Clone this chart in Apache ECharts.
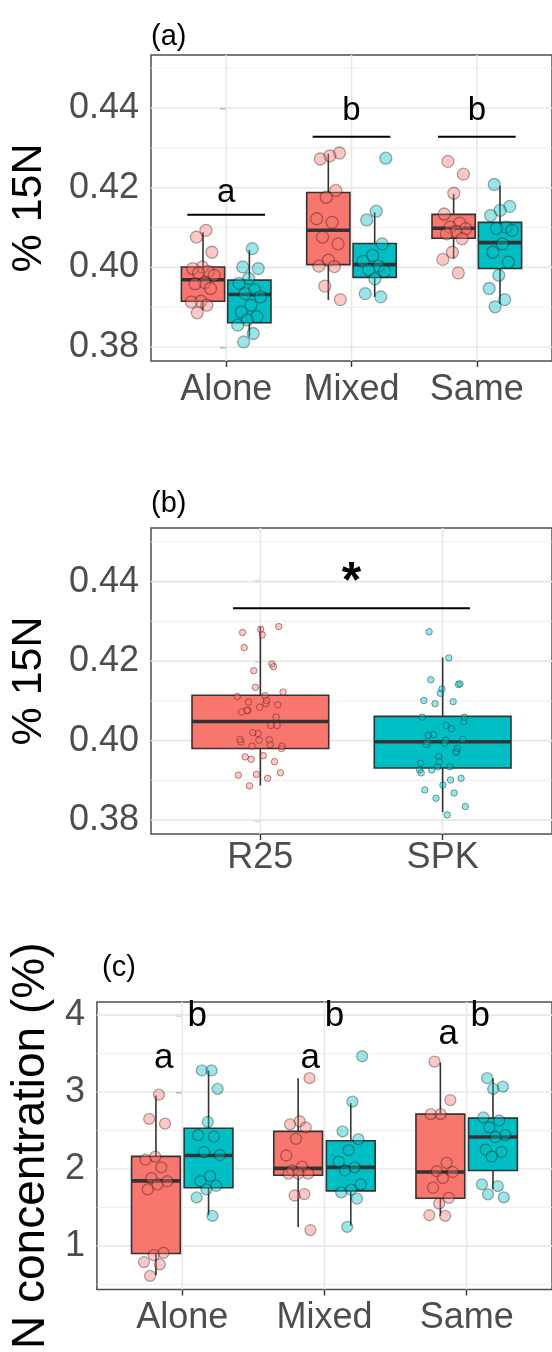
<!DOCTYPE html>
<html>
<head>
<meta charset="utf-8">
<script src="https://cdn.jsdelivr.net/npm/echarts@6/dist/echarts.min.js"></script>
<style>html,body{margin:0;padding:0;background:#fff}#c{width:552px;height:1352px}</style>
</head>
<body>
<div id="c"></div>
<script>
// ---------------- data ----------------
const catsAC = ['Alone', 'Mixed', 'Same'];
const catsB = ['R25', 'SPK'];
const yTicksAB = [0.38, 0.40, 0.42, 0.44];
const yMinorAB = [0.39, 0.41, 0.43, 0.45];
const yTicksC = [1, 2, 3, 4];
const yMinorC = [0.5, 1.5, 2.5, 3.5];

// panel (a): box stats [lower whisker, q1, median, q3, upper whisker] per category
const boxA_R25 = [[0.3893, 0.3915, 0.3969, 0.4001, 0.4088], [0.3918, 0.4007, 0.4093, 0.4188, 0.4285], [0.4022, 0.4073, 0.4098, 0.4133, 0.4184]];
const boxA_SPK = [[0.3826, 0.3861, 0.3932, 0.3968, 0.4044], [0.3926, 0.3975, 0.4007, 0.4060, 0.4138], [0.3909, 0.3997, 0.4062, 0.4113, 0.4205]];
// panel (a) points
const ptsA_R25_Alone = [0.4093, 0.4076, 0.4038, 0.4001, 0.3997, 0.3990, 0.3986, 0.3980, 0.3962, 0.3959, 0.3947, 0.3915, 0.3913, 0.3905, 0.3886];
const ptsA_R25_Mixed = [0.4287, 0.4280, 0.4272, 0.4193, 0.4176, 0.4122, 0.4113, 0.4076, 0.4059, 0.4018, 0.4003, 0.4002, 0.3953, 0.3919];
const ptsA_R25_Same = [0.4266, 0.4234, 0.4186, 0.4134, 0.4111, 0.4101, 0.4097, 0.4090, 0.4084, 0.4072, 0.4038, 0.4020, 0.3986];
const ptsA_SPK_Alone = [0.4047, 0.4001, 0.3997, 0.3972, 0.3960, 0.3943, 0.3934, 0.3926, 0.3905, 0.3888, 0.3876, 0.3868, 0.3855, 0.3834, 0.3813];
const ptsA_SPK_Mixed = [0.4274, 0.4141, 0.4119, 0.4059, 0.4030, 0.4015, 0.4003, 0.3994, 0.3990, 0.3971, 0.3934, 0.3926];
const ptsA_SPK_Same = [0.4208, 0.4153, 0.4143, 0.4130, 0.4101, 0.4098, 0.4093, 0.4059, 0.4038, 0.4013, 0.3980, 0.3947, 0.3919, 0.3901];

// panel (b): pooled box stats
const boxB = [[0.3887, 0.3980, 0.4048, 0.4114, 0.4287], [0.3820, 0.3931, 0.3997, 0.4061, 0.4209]];

// panel (c)
const boxC_R25 = [[0.617, 0.900, 1.845, 2.163, 2.956], [1.247, 1.918, 2.008, 2.488, 3.180], [1.390, 1.620, 1.960, 2.712, 3.383]];
const boxC_SPK = [[1.398, 1.756, 2.175, 2.529, 3.280], [1.260, 1.715, 2.020, 2.366, 2.855], [1.735, 1.980, 2.415, 2.660, 3.180]];
const ptsC_R25_Alone = [2.965, 2.65, 2.59, 2.16, 2.12, 2.02, 1.88, 1.84, 1.80, 1.735, 0.91, 0.88, 0.79, 0.76, 0.61];
const ptsC_R25_Mixed = [3.18, 2.62, 2.58, 2.54, 2.39, 2.175, 2.03, 1.98, 1.94, 1.94, 1.94, 1.674, 1.655, 1.206];
const ptsC_R25_Same = [3.395, 2.895, 2.712, 2.712, 2.08, 1.97, 1.96, 1.88, 1.756, 1.625, 1.55, 1.398, 1.39];
const ptsC_SPK_Alone = [3.28, 3.28, 3.04, 2.61, 2.44, 2.42, 2.22, 2.18, 1.906, 1.84, 1.78, 1.735, 1.63, 1.39];
const ptsC_SPK_Mixed = [3.465, 2.875, 2.488, 2.387, 2.244, 2.094, 2.02, 1.98, 1.80, 1.73, 1.695, 1.613, 1.247];
const ptsC_SPK_Same = [3.18, 3.07, 3.04, 2.67, 2.63, 2.54, 2.44, 2.415, 2.25, 2.22, 2.16, 1.80, 1.776, 1.67, 1.63];

// significance annotations: [x1, x2, y] lines and [x, y, text] labels
const sigLinesA = [[-0.31, 0.31, 0.4132], [0.69, 1.31, 0.4328], [1.69, 2.31, 0.4328]];
const sigTextA = [[0, 0.4186, 'a'], [1, 0.4392, 'b'], [2, 0.4392, 'b']];
const sigLinesB = [[-0.15, 1.15, 0.4333]];
const sigTextB = [[0.5, 0.4397, '*']];
const sigTextC = [[-0.13, 3.444, 'a'], [0.105, 3.985, 'b'], [0.90, 3.444, 'a'], [1.07, 3.985, 'b'], [1.87, 3.75, 'a'], [2.095, 3.985, 'b']];

// ---------------- helpers ----------------
const FONT = "'Liberation Sans', Arial, Helvetica, sans-serif";
const FILL = ['#F8766D', '#00BFC4'];
const PFILL = ['rgba(248,118,109,0.5)', 'rgba(0,191,196,0.5)'];
const DODGE = 0.185;

function jit(i) { return (((i + 1) * 0.6180339887) % 1) * 2 - 1; }

function boxData(stats, off, colorIdx) {
  return stats.map((s, i) => [i + off, s[0], s[1], s[2], s[3], s[4], colorIdx]);
}
function ptData(arrs, off, J) {
  const out = [];
  arrs.forEach((arr, ci) => arr.forEach((v, i) => out.push([ci + off + jit(i + ci * 7) * J, v])));
  return out;
}

function boxRenderer(bw) {
  return function (params, api) {
    const x = api.value(0);
    const lo = api.coord([x, api.value(1)]);
    const q1 = api.coord([x, api.value(2)]);
    const md = api.coord([x, api.value(3)]);
    const q3 = api.coord([x, api.value(4)]);
    const hi = api.coord([x, api.value(5)]);
    const w = api.size([bw, 0])[0];
    return {
      type: 'group', children: [
        { type: 'line', shape: { x1: lo[0], y1: lo[1], x2: hi[0], y2: hi[1] }, style: { stroke: '#333', lineWidth: 1.6 } },
        { type: 'rect', shape: { x: q3[0] - w / 2, y: q3[1], width: w, height: q1[1] - q3[1] }, style: { fill: FILL[api.value(6)], stroke: '#333', lineWidth: 1.6 } },
        { type: 'line', shape: { x1: md[0] - w / 2, y1: md[1], x2: md[0] + w / 2, y2: md[1] }, style: { stroke: '#333', lineWidth: 3.6 } }
      ]
    };
  };
}
function hGrid(params, api) {
  const cs = params.coordSys;
  const y = api.coord([0, api.value(1)])[1];
  const major = api.value(2) === 1;
  return { type: 'line', shape: { x1: cs.x, y1: y, x2: cs.x + cs.width, y2: y }, style: { stroke: '#E8E8E8', lineWidth: major ? 1.6 : 0.8 } };
}
function vGrid(params, api) {
  const cs = params.coordSys;
  const x = api.coord([api.value(0), 0])[0];
  return { type: 'line', shape: { x1: x, y1: cs.y, x2: x, y2: cs.y + cs.height }, style: { stroke: '#E8E8E8', lineWidth: 1.6 } };
}
function lineRenderer(params, api) {
  const a = api.coord([api.value(0), api.value(2)]);
  const b = api.coord([api.value(1), api.value(2)]);
  return { type: 'line', shape: { x1: a[0], y1: a[1], x2: b[0], y2: b[1] }, style: { stroke: '#000', lineWidth: 2 } };
}
function textRenderer(size, weight) {
  return function (params, api) {
    const p = api.coord([api.value(0), api.value(1)]);
    return { type: 'text', x: p[0], y: p[1], style: { text: String(api.value(2)), fontSize: size, fontWeight: weight, fontFamily: FONT, fill: '#000', align: 'center', verticalAlign: 'middle' } };
  };
}

function gridSeries(idx, ticks, minor, nCats) {
  const h = ticks.map(v => [0, v, 1]).concat(minor.map(v => [0, v, 0]));
  const v = [];
  for (let i = 0; i < nCats; i++) v.push([i, 0]);
  return [
    { type: 'custom', xAxisIndex: idx, yAxisIndex: idx, z: 1, silent: true, renderItem: hGrid, data: h, encode: { x: 0, y: 1 } },
    { type: 'custom', xAxisIndex: idx, yAxisIndex: idx, z: 1, silent: true, renderItem: vGrid, data: v, encode: { x: 0 } }
  ];
}

function xAxisFor(idx, cats, max) {
  const vals = cats.map((c, i) => i);
  return {
    type: 'value', gridIndex: idx, min: -0.6, max: max,
    axisLine: { show: false }, splitLine: { show: false },
    axisTick: { show: true, customValues: vals, length: 6, lineStyle: { color: '#333', width: 1.4 } },
    axisLabel: { customValues: vals, formatter: v => cats[Math.round(v)], fontSize: 36, color: '#4D4D4D', fontFamily: FONT, margin: idx === 1 ? 6 : 11 }
  };
}
function yAxisFor(idx, min, max, ticks, fmt, name, nameSize, nameGap) {
  return {
    type: 'value', gridIndex: idx, min: min, max: max,
    axisLine: { show: false }, splitLine: { show: false },
    axisTick: { show: true, customValues: ticks, length: 6, lineStyle: { color: '#333', width: 1.4 } },
    axisLabel: { customValues: ticks, formatter: fmt, fontSize: 36, color: '#4D4D4D', fontFamily: FONT, margin: 12 },
    name: name, nameLocation: 'middle', nameRotate: 90, nameGap: nameGap,
    nameTextStyle: { fontSize: nameSize, color: '#000', fontFamily: FONT }
  };
}

const gridStyle = { show: true, backgroundColor: '#fff', borderColor: '#4D4D4D', borderWidth: 1.5 };

const option = {
  animation: false,
  backgroundColor: '#fff',
  title: [
    { text: '(a)', left: 146, top: 17, textStyle: { fontSize: 29, fontWeight: 'normal', color: '#000', fontFamily: FONT } },
    { text: '(b)', left: 146, top: 484, textStyle: { fontSize: 29, fontWeight: 'normal', color: '#000', fontFamily: FONT } },
    { text: '(c)', left: 97, top: 948, textStyle: { fontSize: 29, fontWeight: 'normal', color: '#000', fontFamily: FONT } }
  ],
  grid: [
    Object.assign({ left: 148, top: 55, width: 408, height: 306 }, gridStyle),
    Object.assign({ left: 148, top: 528, width: 408, height: 306 }, gridStyle),
    Object.assign({ left: 95, top: 1002, width: 462, height: 306 }, gridStyle)
  ],
  xAxis: [xAxisFor(0, catsAC, 2.6), xAxisFor(1, catsB, 1.6), xAxisFor(2, catsAC, 2.6)],
  yAxis: [
    yAxisFor(0, 0.3765, 0.4533, yTicksAB, v => v.toFixed(2), '% 15N', 43, 100),
    yAxisFor(1, 0.3765, 0.4535, yTicksAB, v => v.toFixed(2), '% 15N', 43, 100),
    yAxisFor(2, 0.433, 4.17, yTicksC, v => String(v), 'N concentration (%)', 46, 36)
  ],
  series: [].concat(
    gridSeries(0, yTicksAB, yMinorAB, 3),
    gridSeries(1, yTicksAB, yMinorAB, 2),
    gridSeries(2, yTicksC, yMinorC, 3),
    [
      // panel (a)
      { type: 'custom', xAxisIndex: 0, yAxisIndex: 0, z: 2, renderItem: boxRenderer(0.345), data: boxData(boxA_R25, -DODGE, 0).concat(boxData(boxA_SPK, DODGE, 1)), encode: { x: 0, y: [1, 5] } },
      { type: 'scatter', xAxisIndex: 0, yAxisIndex: 0, z: 3, symbolSize: 12, itemStyle: { color: PFILL[0], borderColor: 'rgba(0,0,0,0.4)', borderWidth: 1.3 }, data: ptData([ptsA_R25_Alone, ptsA_R25_Mixed, ptsA_R25_Same], -DODGE, 0.1) },
      { type: 'scatter', xAxisIndex: 0, yAxisIndex: 0, z: 3, symbolSize: 12, itemStyle: { color: PFILL[1], borderColor: 'rgba(0,0,0,0.4)', borderWidth: 1.3 }, data: ptData([ptsA_SPK_Alone, ptsA_SPK_Mixed, ptsA_SPK_Same], DODGE, 0.1) },
      { type: 'custom', xAxisIndex: 0, yAxisIndex: 0, z: 4, renderItem: lineRenderer, data: sigLinesA, clip: false },
      { type: 'custom', xAxisIndex: 0, yAxisIndex: 0, z: 4, renderItem: textRenderer(33, 'normal'), data: sigTextA, clip: false },
      // panel (b)
      { type: 'custom', xAxisIndex: 1, yAxisIndex: 1, z: 2, renderItem: boxRenderer(0.75), data: boxData(boxB, 0, 0).map((d, i) => (d[6] = i, d)), encode: { x: 0, y: [1, 5] } },
      { type: 'scatter', xAxisIndex: 1, yAxisIndex: 1, z: 3, symbolSize: 6.5, itemStyle: { color: PFILL[0], borderColor: 'rgba(90,20,20,0.6)', borderWidth: 1 }, data: ptData([ptsA_R25_Alone.concat(ptsA_R25_Mixed, ptsA_R25_Same)], 0, 0.13) },
      { type: 'scatter', xAxisIndex: 1, yAxisIndex: 1, z: 3, symbolSize: 6.5, itemStyle: { color: PFILL[1], borderColor: 'rgba(0,60,60,0.6)', borderWidth: 1 }, data: ptData([[], ptsA_SPK_Alone.concat(ptsA_SPK_Mixed, ptsA_SPK_Same)], 0, 0.13) },
      { type: 'custom', xAxisIndex: 1, yAxisIndex: 1, z: 4, renderItem: lineRenderer, data: sigLinesB, clip: false },
      { type: 'custom', xAxisIndex: 1, yAxisIndex: 1, z: 4, renderItem: textRenderer(50, 'bold'), data: sigTextB, clip: false },
      // panel (c)
      { type: 'custom', xAxisIndex: 2, yAxisIndex: 2, z: 2, renderItem: boxRenderer(0.343), data: boxData(boxC_R25, -DODGE, 0).concat(boxData(boxC_SPK, DODGE, 1)), encode: { x: 0, y: [1, 5] } },
      { type: 'scatter', xAxisIndex: 2, yAxisIndex: 2, z: 3, symbolSize: 11, itemStyle: { color: PFILL[0], borderColor: 'rgba(0,0,0,0.4)', borderWidth: 1.3 }, data: ptData([ptsC_R25_Alone, ptsC_R25_Mixed, ptsC_R25_Same], -DODGE, 0.09) },
      { type: 'scatter', xAxisIndex: 2, yAxisIndex: 2, z: 3, symbolSize: 11, itemStyle: { color: PFILL[1], borderColor: 'rgba(0,0,0,0.4)', borderWidth: 1.3 }, data: ptData([ptsC_SPK_Alone, ptsC_SPK_Mixed, ptsC_SPK_Same], DODGE, 0.09) },
      { type: 'custom', xAxisIndex: 2, yAxisIndex: 2, z: 4, renderItem: textRenderer(35, 'normal'), data: sigTextC, clip: false }
    ]
  )
};

const chart = echarts.init(document.getElementById('c'), null, { renderer: 'canvas' });
chart.setOption(option);
</script>
</body>
</html>
